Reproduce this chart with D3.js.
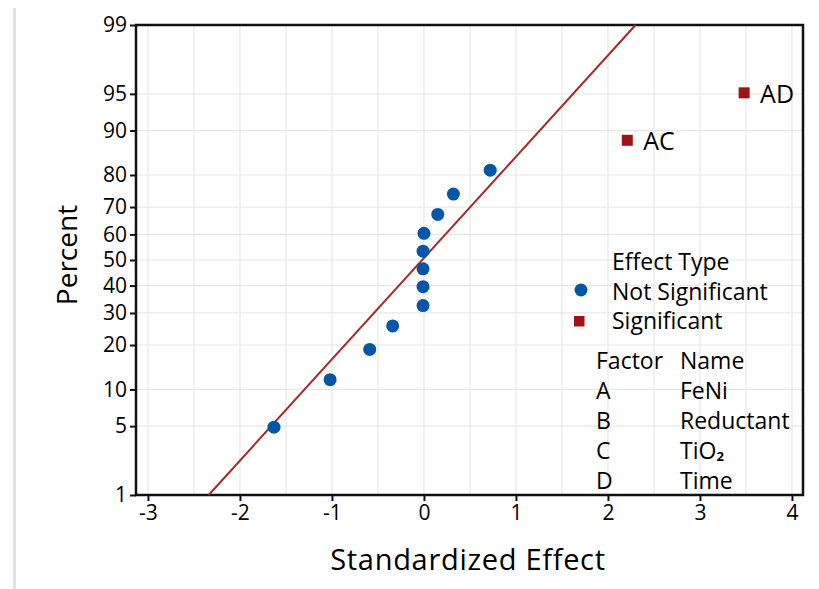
<!DOCTYPE html>
<html>
<head>
<meta charset="utf-8">
<script src="https://cdn.jsdelivr.net/npm/d3@7"></script>
<style>
  body { margin: 0; background: #fff; }
  svg { display: block; font-family: "Open Sans", "Noto Sans", sans-serif; }
</style>
</head>
<body>
<div class="container"></div>
<script>
// effects (standardized effect, percent)
const effectValues = [-1.63, -1.02, -0.59, -0.34, -0.01, -0.01, -0.01, -0.01, 0.0, 0.15, 0.32, 0.72, 2.21, 3.48];
const effectPercents = [4.9, 11.8, 18.8, 25.7, 32.6, 39.6, 46.5, 53.5, 60.4, 67.4, 74.3, 81.3, 88.2, 95.1];
const effectTypes = ["ns", "ns", "ns", "ns", "ns", "ns", "ns", "ns", "ns", "ns", "ns", "ns", "sig", "sig"];
const effectNames = ["", "", "", "", "", "", "", "", "", "", "", "", "AC", "AD"];

// fitted line end points
const lineEffects = [-2.34, 2.30];
const linePercents = [1, 99];

const xTicks = [-3, -2, -1, 0, 1, 2, 3, 4];
const xGrid = [-3, -2.5, -2, -1.5, -1, -0.5, 0, 0.5, 1, 1.5, 2, 2.5, 3, 3.5, 4];
const yTicks = [1, 5, 10, 20, 30, 40, 50, 60, 70, 80, 90, 95, 99];

const factorCodes = ["A", "B", "C", "D"];
const factorNames = ["FeNi", "Reductant", "TiO", "Time"];

const width = 819, height = 589;
const plot = { left: 136, right: 803, top: 25, bottom: 495 };

// inverse normal cdf (Acklam)
function probit(p) {
    const a = [-39.69683028665376, 220.9460984245205, -275.9285104469687, 138.3577518672690, -30.66479806614716, 2.506628277459239];
    const b = [-54.47609879822406, 161.5858368580409, -155.6989798598866, 66.80131188771972, -13.28068155288572];
    const c = [-0.007784894002430293, -0.3223964580411365, -2.400758277161838, -2.549732539343734, 4.374664141464968, 2.938163982698783];
    const d = [0.007784695709041462, 0.3224671290700398, 2.445134137142996, 3.754408661907416];
    const pl = 0.02425;
    let q, r;
    if (p < pl) {
        q = Math.sqrt(-2 * Math.log(p));
        return (((((c[0]*q+c[1])*q+c[2])*q+c[3])*q+c[4])*q+c[5]) / ((((d[0]*q+d[1])*q+d[2])*q+d[3])*q+1);
    } else if (p <= 1 - pl) {
        q = p - 0.5; r = q * q;
        return (((((a[0]*r+a[1])*r+a[2])*r+a[3])*r+a[4])*r+a[5])*q / (((((b[0]*r+b[1])*r+b[2])*r+b[3])*r+b[4])*r+1);
    } else {
        q = Math.sqrt(-2 * Math.log(1 - p));
        return -(((((c[0]*q+c[1])*q+c[2])*q+c[3])*q+c[4])*q+c[5]) / ((((d[0]*q+d[1])*q+d[2])*q+d[3])*q+1);
    }
}

const x = d3.scaleLinear().domain([-3.13, 4.12]).range([plot.left, plot.right]);
const yZ = d3.scaleLinear().domain([probit(0.01), probit(0.99)]).range([plot.bottom, plot.top]);
const y = p => yZ(probit(p / 100));

const svg = d3.select(".container").append("svg")
    .attr("width", width)
    .attr("height", height);

// light divider at the left edge
svg.append("line")
    .attr("x1", 14.5).attr("x2", 14.5)
    .attr("y1", 8).attr("y2", height)
    .attr("stroke", "#e2e2e2")
    .attr("stroke-width", 3);

// grid
const grid = svg.append("g").attr("stroke", "#e8e8e8").attr("stroke-width", 1.2);
grid.selectAll(".gx").data(xGrid).enter().append("line")
    .attr("x1", d => x(d)).attr("x2", d => x(d))
    .attr("y1", plot.top).attr("y2", plot.bottom);
grid.selectAll(".gy").data(yTicks).enter().append("line")
    .attr("x1", plot.left).attr("x2", plot.right)
    .attr("y1", d => y(d)).attr("y2", d => y(d));

// axes
const xAxis = d3.axisBottom(x).tickValues(xTicks).tickSize(6).tickSizeOuter(0).tickPadding(4)
    .tickFormat(d => String(d));
const gx = svg.append("g")
    .attr("transform", `translate(0, ${plot.bottom})`)
    .call(xAxis);

const yAxis = d3.axisLeft(yZ).tickValues(yTicks.map(p => probit(p / 100))).tickSize(6).tickSizeOuter(0).tickPadding(3)
    .tickFormat((d, i) => yTicks[i]);
const gy = svg.append("g")
    .attr("transform", `translate(${plot.left}, 0)`)
    .call(yAxis);

[gx, gy].forEach(g => {
    g.attr("font-size", 21).attr("font-family", null);
    g.select(".domain").remove();
    g.selectAll("line").attr("stroke", "#111").attr("stroke-width", 2);
    g.selectAll("text").attr("fill", "#000");
});

// frame
svg.append("rect")
    .attr("x", plot.left).attr("y", plot.top)
    .attr("width", plot.right - plot.left)
    .attr("height", plot.bottom - plot.top)
    .attr("fill", "none")
    .attr("stroke", "#111")
    .attr("stroke-width", 2.5);

// fitted line
svg.append("line")
    .attr("x1", x(lineEffects[0])).attr("y1", y(linePercents[0]))
    .attr("x2", x(lineEffects[1])).attr("y2", y(linePercents[1]))
    .attr("stroke", "#a52a2a")
    .attr("stroke-width", 2);

const blue = "#0656a8", red = "#9c1414";
const points = effectValues.map((v, i) => ({ v, p: effectPercents[i], t: effectTypes[i], n: effectNames[i] }));

svg.selectAll(".dot")
    .data(points.filter(d => d.t === "ns"))
    .enter().append("circle")
    .attr("cx", d => x(d.v))
    .attr("cy", d => y(d.p))
    .attr("r", 6.5)
    .attr("fill", blue);

const sig = points.filter(d => d.t === "sig");
svg.selectAll(".sq")
    .data(sig)
    .enter().append("rect")
    .attr("x", d => x(d.v) - 5.5)
    .attr("y", d => y(d.p) - 5.5)
    .attr("width", 11).attr("height", 11)
    .attr("fill", red);

svg.selectAll(".lab")
    .data(sig)
    .enter().append("text")
    .attr("x", d => x(d.v) + 16)
    .attr("y", d => y(d.p) + 10)
    .style("font-size", "25px")
    .attr("fill", "#000")
    .text(d => d.n);

// axis titles
svg.append("text")
    .attr("x", 468)
    .attr("y", 570)
    .attr("text-anchor", "middle")
    .style("font-size", "29px")
    .style("letter-spacing", "0.7px")
    .attr("fill", "#000")
    .text("Standardized Effect");

svg.append("text")
    .attr("transform", `translate(77, 255) rotate(-90)`)
    .attr("text-anchor", "middle")
    .style("font-size", "28px")
    .attr("fill", "#000")
    .text("Percent");

// legend
const legend = svg.append("g").style("font-size", "23px").attr("fill", "#000");
legend.append("text").attr("x", 612).attr("y", 270).text("Effect Type");
legend.append("circle").attr("cx", 581).attr("cy", 290).attr("r", 6.5).attr("fill", blue);
legend.append("text").attr("x", 612).attr("y", 300).text("Not Significant");
legend.append("rect").attr("x", 574).attr("y", 316).attr("width", 10.5).attr("height", 10.5).attr("fill", red);
legend.append("text").attr("x", 612).attr("y", 329).text("Significant");

legend.append("text").attr("x", 596).attr("y", 369).text("Factor");
legend.append("text").attr("x", 680).attr("y", 369).text("Name");
factorCodes.forEach((c, i) => {
    const yy = 399 + i * 30;
    legend.append("text").attr("x", 596).attr("y", yy).text(c);
    const t = legend.append("text").attr("x", 680).attr("y", yy).text(factorNames[i]);
    if (c === "C") {
        t.append("tspan").attr("dy", 2).style("font-size", "13px").style("font-weight", "bold").text("2");
    }
});
</script>
</body>
</html>
